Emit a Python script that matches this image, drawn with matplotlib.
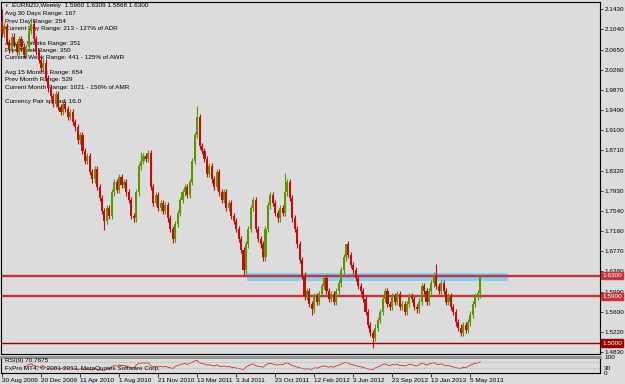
import numpy as np
import matplotlib
matplotlib.use("Agg")
import matplotlib.pyplot as plt
from matplotlib.patches import Rectangle

# weekly closes EURNZD, 30 Aug 2009 .. 2 Jun 2013
closes = [
    2.095, 2.110, 2.080, 2.065, 2.090, 2.075, 2.060, 2.085, 2.070, 2.055,
    2.070, 2.100, 2.115, 2.085, 2.060, 2.045, 2.030, 2.040, 2.010, 1.990,
    1.975, 1.960, 1.980, 1.955, 1.945, 1.960, 1.950, 1.935, 1.945, 1.925,
    1.915, 1.890, 1.900, 1.870, 1.850, 1.860, 1.830, 1.815, 1.835, 1.800,
    1.780, 1.755, 1.735, 1.760, 1.745, 1.790, 1.810, 1.795, 1.820, 1.805,
    1.810, 1.790, 1.775, 1.745, 1.740, 1.790, 1.840, 1.850, 1.860, 1.855,
    1.865, 1.800, 1.770, 1.785, 1.760, 1.770, 1.755, 1.765, 1.740, 1.720,
    1.700, 1.730, 1.750, 1.775, 1.790, 1.800, 1.785, 1.810, 1.850, 1.900,
    1.935, 1.880, 1.870, 1.855, 1.825, 1.840, 1.815, 1.800, 1.830, 1.790,
    1.775, 1.790, 1.760, 1.770, 1.745, 1.735, 1.720, 1.700, 1.680, 1.640,
    1.690, 1.720, 1.760, 1.775, 1.720, 1.700, 1.690, 1.665, 1.720, 1.765,
    1.785, 1.770, 1.750, 1.740, 1.760, 1.750, 1.790, 1.810, 1.780, 1.740,
    1.720, 1.690, 1.660, 1.630, 1.590, 1.600, 1.575, 1.565, 1.590, 1.580,
    1.595, 1.610, 1.625, 1.600, 1.585, 1.595, 1.580, 1.600, 1.615, 1.640,
    1.665, 1.690, 1.670, 1.650, 1.640, 1.625, 1.610, 1.600, 1.585, 1.560,
    1.535, 1.520, 1.510, 1.530, 1.545, 1.560, 1.585, 1.600, 1.575, 1.570,
    1.590, 1.580, 1.595, 1.570, 1.575, 1.560, 1.575, 1.590, 1.585, 1.570,
    1.565, 1.580, 1.610, 1.600, 1.580, 1.600, 1.615, 1.630, 1.610, 1.600,
    1.615, 1.600, 1.580, 1.590, 1.570, 1.560, 1.540, 1.530, 1.520, 1.535,
    1.525, 1.540, 1.555, 1.575, 1.590, 1.5960, 1.6300,
]
first_open = 2.120
wick = 0.006
spike_highs = {0: 2.143, 12: 2.125, 57: 1.868, 80: 1.957, 116: 1.827,
               141: 1.691, 178: 1.652, 196: 1.6309}
spike_lows = {42: 1.718, 70: 1.693, 99: 1.632, 127: 1.555, 152: 1.490,
              196: 1.5868}

price_ticks = [2.1430, 2.1040, 2.0650, 2.0260, 1.9870, 1.9490, 1.9100, 1.8710,
               1.8320, 1.7930, 1.7540, 1.7160, 1.6770, 1.6380, 1.5990, 1.5600,
               1.5220, 1.4830]
date_labels = ["30 Aug 2009", "20 Dec 2009", "11 Apr 2010", "1 Aug 2010",
               "21 Nov 2010", "13 Mar 2011", "3 Jul 2011", "23 Oct 2011",
               "12 Feb 2012", "3 Jun 2012", "23 Sep 2012", "13 Jan 2013",
               "5 May 2013"]
label_step = 16  # weeks between date labels

levels = [1.6300, 1.5900, 1.5000]
level_colors = ["#c0353a", "#c0353a", "#9a0000"]
level_widths = [1.7, 1.7, 1.0]
zone_bars = (100.4, 207.4)
zone_prices = (1.6197, 1.6343)

info_lines = [
    "Avg 30 Days Range: 167",
    "Prev Day Range: 254",
    "Current Day Range: 213 - 127% of ADR",
    "",
    "Avg 15 Weeks Range: 351",
    "Prev Week Range: 350",
    "Current Week Range: 441 - 125% of AWR",
    "",
    "Avg 15 Months Range: 654",
    "Prev Month Range: 529",
    "Current Month Range: 1021 - 156% of AMR",
    "",
    "Currency Pair spread: 16.0",
]

BG = "#dcdcdc"
UP = "#5a9600"
DN = "#c80a0a"
FONT = ["Liberation Sans", "DejaVu Sans"]
FS = 4.6

c = np.array(closes)
o = np.concatenate([[first_open], c[:-1]])
hi = np.maximum(o, c) + wick
lo = np.minimum(o, c) - wick
for k, v in spike_highs.items():
    hi[k] = v
for k, v in spike_lows.items():
    lo[k] = v
x = np.arange(len(c))

# RSI(9), Wilder smoothing
d = np.diff(c)
g = np.where(d > 0, d, 0.0)
l = np.where(d < 0, -d, 0.0)
ag, al = g[:9].mean(), l[:9].mean()
rsi = [np.nan] * 9
for i in range(9, len(d) + 1):
    if i > 9:
        ag = (ag * 8 + g[i - 1]) / 9
        al = (al * 8 + l[i - 1]) / 9
    rsi.append(100 - 100 / (1 + ag / al) if al > 0 else 100)
rsi = np.array(rsi)

plt.rcParams["font.family"] = FONT
fig = plt.figure(figsize=(6.25, 3.84), dpi=100, facecolor=BG)
ax = fig.add_axes([1 / 625, 30 / 384, 599 / 625, 352 / 384], facecolor=BG)
rx = fig.add_axes([1 / 625, 11 / 384, 599 / 625, 16 / 384], facecolor=BG)

xlim = (-0.4, 245.1)

ax.add_patch(Rectangle((zone_bars[0], zone_prices[0]), zone_bars[1] - zone_bars[0],
                       zone_prices[1] - zone_prices[0], color="#87cdee", zorder=1, lw=0))
for lv, col, w in zip(levels, level_colors, level_widths):
    ax.axhline(lv, color=col, lw=w, zorder=2)

up = c >= o
cols = np.where(up, UP, DN)
ax.vlines(x, lo, hi, colors=cols, lw=0.8, zorder=3)
ax.bar(x, np.maximum(np.abs(c - o), 0.0008), bottom=np.minimum(o, c), width=0.85,
       color=cols, lw=0, zorder=4)

ax.set_xlim(*xlim)
ax.set_ylim(1.4792, 2.1564)
ax.yaxis.tick_right()
ax.set_yticks(price_ticks)
ax.set_yticklabels([f"{p:.4f}" for p in price_ticks])
ax.tick_params(axis="y", labelsize=FS, length=2, width=0.5, pad=1.5, colors="black")
ax.set_xticks([])
for s in ax.spines.values():
    s.set_linewidth(0.8)

for lv, col in zip(levels, level_colors):
    ax.annotate(f"{lv:.4f}", xy=(1.0, lv), xycoords=("axes fraction", "data"),
                xytext=(1.5, 0), textcoords="offset points", va="center", ha="left",
                fontsize=FS, color="white",
                bbox=dict(boxstyle="square,pad=0.2", fc=col, ec=col))

ax.text(4 / 599, 1 - 4 / 352, "\u25bc", transform=ax.transAxes, fontsize=3.2,
        color="#777777", va="center", ha="left", family="DejaVu Sans")
ax.text(11 / 599, 1 - 4 / 352, "EURNZD,Weekly  1.5960 1.6309 1.5868 1.6300",
        transform=ax.transAxes, fontsize=FS, va="center", ha="left")
for k, line in enumerate(info_lines):
    ax.text(4 / 599, 1 - (12 + 7.3 * k) / 352, line, transform=ax.transAxes,
            fontsize=FS, va="center", ha="left")

# RSI panel
rx.plot(x, rsi, color="#c83232", lw=0.6)
for lv in (70, 30):
    rx.axhline(lv, color="#a8a8a8", lw=0.5, ls=(0, (2, 2)))
rx.set_xlim(*xlim)
rx.set_ylim(0, 100)
rx.yaxis.tick_right()
rx.set_yticks([100, 30, 0])
rx.set_yticklabels(["100", "30", "0"])
rx.tick_params(axis="y", labelsize=FS, length=0, pad=3)
ticks = list(range(0, len(c), label_step))[:len(date_labels)]
rx.set_xticks(ticks)
rx.set_xticklabels(date_labels, ha="left")
rx.tick_params(axis="x", labelsize=FS, length=3, width=0.5, pad=0.5, direction="out")
for s in rx.spines.values():
    s.set_linewidth(0.8)
rx.spines["top"].set_color("#909090")
rx.spines["top"].set_linewidth(2)
rx.text(4 / 599, 0.78, "RSI(9) 70.7675", transform=rx.transAxes, fontsize=FS,
        va="center", ha="left")
rx.text(4 / 599, 0.3, "FxPro MT4, \u00a9 2001-2013, MetaQuotes Software Corp.",
        transform=rx.transAxes, fontsize=FS, va="center", ha="left")

fig.savefig("out.png", dpi=100, facecolor=BG)
